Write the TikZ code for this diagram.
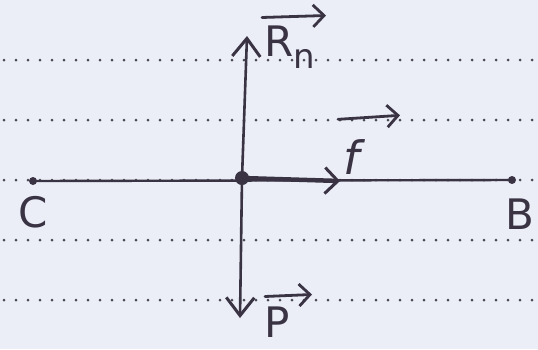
\documentclass[tikz,border=0pt]{standalone}
\usepackage{fontspec}
\setmainfont{DejaVu Sans}
\usetikzlibrary{arrows.meta}
\definecolor{paper}{HTML}{EBEEF6}
\definecolor{ink}{HTML}{3A3344}
\definecolor{rule}{HTML}{4A4652}
\tikzset{
  ruled/.style={rule, line width=3pt, line cap=round, dash pattern=on 0pt off 12pt},
  pen/.style={ink, line width=2.6pt, line cap=round, line join=round},
  tip/.style={-{Straight Barb[length=18pt,width=28pt,line width=3pt]}},
  lbl/.style={ink, inner sep=0pt, font=\fontsize{42}{42}\selectfont},
  vecbar/.style={pen, line width=2.8pt, -{Straight Barb[length=11pt,width=22pt,line width=2.8pt]}}
}
\begin{document}
\begin{tikzpicture}[x=1pt,y=-1pt]
\fill[paper] (0,0) rectangle (538,349);
\useasboundingbox (0,0) rectangle (538,349);
% ruled dotted lines
\foreach \yy in {60,120,180,240,300}
  \draw[ruled] (4,\yy) -- (538,\yy);
% points
\coordinate (top) at (247,36);
\coordinate (bot) at (240,318);
\coordinate (C) at (33,181);
\coordinate (B) at (512,180);
\coordinate (O) at (242,178);
\coordinate (fend) at (340,181);
% line CB
\draw[pen, line width=2.4pt] (C) -- (B);
\fill[ink] (C) circle (4pt);
\fill[ink] (B) circle (4pt);
% vertical forces
\draw[pen, tip] (O) -- (top);
\draw[pen, tip] (O) -- (bot);
% friction arrow
\draw[pen, line width=4.5pt, -{Straight Barb[length=13pt,width=26pt,line width=3pt]}] (O) -- (fend);
\fill[ink] (O) circle (7pt);
% labels
\node[lbl] (Rn) at (290,47) {R\raisebox{-12pt}{\fontsize{34}{34}\selectfont n}};
\draw[vecbar] ([xshift=-28pt,yshift=8pt]Rn.north) -- ([xshift=36pt,yshift=10pt]Rn.north);
\node[lbl, font=\fontsize{46}{46}\itshape\selectfont] (f) at (352,157) {f};
\draw[vecbar] ([xshift=-14pt,yshift=20pt]f.north) -- ([xshift=48pt,yshift=24pt]f.north);
\node[lbl] (P) at (277,322) {P};
\draw[vecbar] ([xshift=-12pt,yshift=10pt]P.north) -- ([xshift=35pt,yshift=12pt]P.north);
\node[lbl] (Cl) at (33,212) {C};
\node[lbl] (Bl) at (520,214) {B};
\end{tikzpicture}
\end{document}
